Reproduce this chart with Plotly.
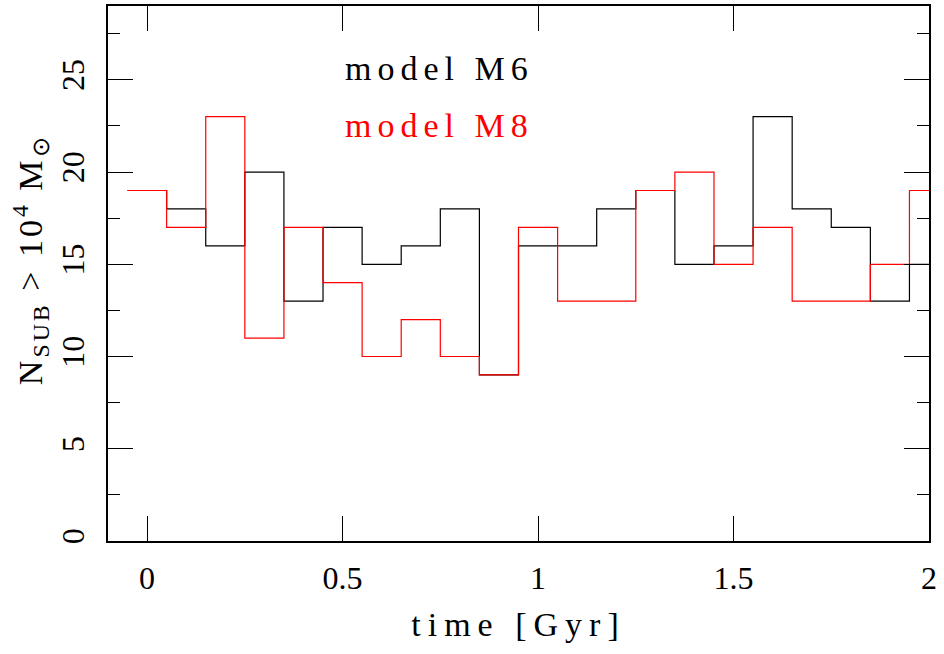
import plotly.graph_objects as go

bin_centers = [0.0, 0.1, 0.2, 0.3, 0.4, 0.5, 0.6, 0.7, 0.8, 0.9, 1.0,
               1.1, 1.2, 1.3, 1.4, 1.5, 1.6, 1.7, 1.8, 1.9, 2.0]
bin_width = 0.1
m6_counts = [19, 18, 16, 20, 13, 17, 15, 16, 18, 9, 16, 16, 18, 19, 15, 16, 23, 18, 17, 13, 15]
m8_counts = [19, 17, 23, 11, 17, 14, 10, 12, 10, 9, 17, 13, 13, 19, 20, 15, 17, 13, 13, 15, 19]
x_tickvals = [0, 0.5, 1, 1.5, 2]
x_ticktext = ["0", "0.5", "1", "1.5", "2"]
y_tickvals = [0, 5, 10, 15, 20, 25]

FONT = "Liberation Serif"


def step_xy(centers, counts):
    xs = [c - bin_width / 2 for c in centers] + [centers[-1] + bin_width / 2]
    ys = list(counts) + [counts[-1]]
    return xs, ys


fig = go.Figure()
x6, y6 = step_xy(bin_centers, m6_counts)
x8, y8 = step_xy(bin_centers, m8_counts)
fig.add_trace(go.Scatter(x=x6, y=y6, mode="lines", line=dict(shape="hv", color="black", width=1.2),
                         showlegend=False, hoverinfo="skip"))
fig.add_trace(go.Scatter(x=x8, y=y8, mode="lines", line=dict(shape="hv", color="#ff0000", width=1.2),
                         showlegend=False, hoverinfo="skip"))

fig.add_annotation(x=0.5, y=25.6, xref="x", yref="y", xanchor="left", yanchor="middle",
                   text='<span style="letter-spacing:6px">model M6</span>', showarrow=False,
                   font=dict(family=FONT, size=34, color="black"))
fig.add_annotation(x=0.5, y=22.5, xref="x", yref="y", xanchor="left", yanchor="middle",
                   text='<span style="letter-spacing:6px">model M8</span>', showarrow=False,
                   font=dict(family=FONT, size=34, color="#ff0000"))

# y-axis title
fig.add_annotation(x=-78 / 821, y=0.525, xref="paper", yref="paper", xanchor="center", yanchor="middle",
                   textangle=-90, showarrow=False,
                   text='<span style="letter-spacing:3px">N<sub>SUB</sub> &gt; 10<sup>4</sup> M<sub>⊙</sub></span>',
                   font=dict(family=FONT, size=34, color="black"))

fig.update_xaxes(range=[-0.1, 2.0], tickvals=x_tickvals, ticktext=x_ticktext, automargin=False,
                 ticks="inside", ticklen=25, tickwidth=1, tickcolor="black", ticklabelstandoff=8,
                 showline=True, linecolor="black", linewidth=1.5, mirror="ticks",
                 showgrid=False, zeroline=False,
                 tickfont=dict(family=FONT, size=32, color="black"),
                 title=dict(text='<span style="letter-spacing:7px">time [Gyr]</span>',
                            font=dict(family=FONT, size=34, color="black"), standoff=17))
fig.update_yaxes(range=[0, 29], tickvals=y_tickvals, tickangle=-90, automargin=False,
                 ticks="inside", ticklen=25, tickwidth=1, tickcolor="black", ticklabelstandoff=9,
                 minor=dict(dtick=2.5, tick0=0, ticks="inside", ticklen=12, tickwidth=1, tickcolor="black"),
                 showline=True, linecolor="black", linewidth=1.5, mirror="ticks",
                 showgrid=False, zeroline=False,
                 tickfont=dict(family=FONT, size=32, color="black"))

fig.update_layout(width=944, height=654, margin=dict(l=108, r=15, t=6, b=113),
                  plot_bgcolor="white", paper_bgcolor="white")

fig.write_html("out.html", config={"displayModeBar": False},
               post_script="document.body.style.margin='0';")
